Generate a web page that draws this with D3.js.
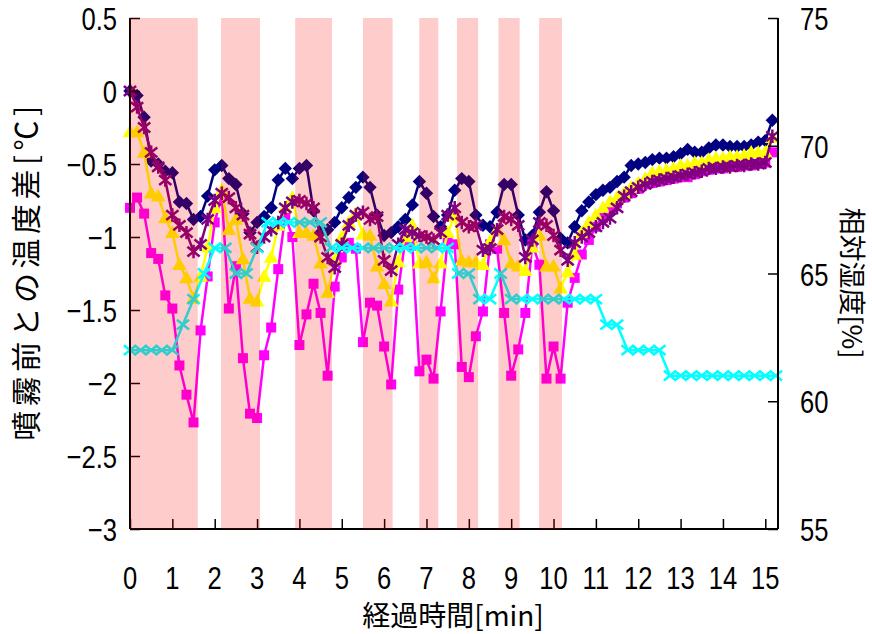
<!DOCTYPE html>
<html>
<head>
<meta charset="utf-8">
<script src="https://cdn.jsdelivr.net/npm/d3@7/dist/d3.min.js"></script>
<style>
  html, body { margin: 0; padding: 0; background: #ffffff; }
  svg text { font-family: "Noto Sans CJK JP", "Noto Sans", sans-serif; fill: #000; }
  svg text.num { font-family: "Liberation Sans", Arial, sans-serif; }
</style>
</head>
<body>
<svg id="chart" width="872" height="634"></svg>
<script>
// Sampling clocks (seconds between readings)
const tempStepSec = 10;
const rhStepSec = 15;

// Spray periods [start, end] in minutes
const sprayPeriods = [
  [0, 1.6], [2.15, 3.07], [3.9, 4.77], [5.5, 6.2],
  [6.83, 7.28], [7.72, 8.22], [8.7, 9.2], [9.66, 10.2]
];

// Temperature difference from pre-spray value [°C], one reading every 10 s
const tempNavy = [
  0.00, -0.03, -0.18, -0.48, -0.50, -0.55, -0.56, -0.76, -0.77, -0.88, -0.86,
  -0.72, -0.54, -0.51, -0.60, -0.64, -0.84, -0.97, -0.90, -0.86, -0.80,
  -0.61, -0.53, -0.60, -0.53, -0.51, -0.82, -0.97, -0.95, -0.90, -0.80,
  -0.73, -0.66, -0.59, -0.66, -0.85, -0.99, -0.97, -0.93, -0.88, -0.78,
  -0.62, -0.70, -0.86, -0.93, -0.85, -0.68, -0.60, -0.62, -0.85, -0.92,
  -0.93, -0.83, -0.64, -0.64, -0.85, -1.02, -0.99, -0.83, -0.69, -0.82,
  -1.01, -1.04, -0.93, -0.82, -0.76, -0.71, -0.68, -0.66, -0.62, -0.59,
  -0.51, -0.50, -0.49, -0.47, -0.46, -0.46, -0.45, -0.43, -0.40, -0.42,
  -0.42, -0.39, -0.37, -0.37, -0.38, -0.38, -0.38, -0.37, -0.35, -0.34, -0.20
];
const tempMagenta = [
  -0.80, -0.73, -0.84, -1.11, -1.15, -1.40, -1.49, -1.88, -2.08, -2.27, -1.64,
  -1.27, -0.90, -0.71, -1.49, -1.20, -1.83, -2.21, -2.24, -1.81, -1.62,
  -1.22, -0.85, -1.00, -1.74, -1.53, -1.32, -1.52, -1.95, -1.34, -1.14,
  -1.04, -1.08, -1.72, -1.45, -1.47, -1.75, -2.01, -1.36, -1.02, -1.06,
  -1.92, -1.84, -1.97, -1.51, -1.02, -1.05, -1.89, -1.96, -1.68, -1.51,
  -1.05, -1.08, -1.52, -1.95, -1.77, -1.52, -1.05, -1.19, -1.97, -1.75,
  -1.97, -1.45, -1.28, -1.12, -1.02, -0.93, -0.87, -0.82, -0.77, -0.73,
  -0.70, -0.67, -0.64, -0.63, -0.62, -0.61, -0.60, -0.59, -0.59, -0.57,
  -0.55, -0.54, -0.53, -0.53, -0.52, -0.52, -0.51, -0.51, -0.50, -0.49, -0.42
];
const tempYellow = [
  -0.28, -0.28, -0.42, -0.70, -0.72, -0.87, -0.97, -1.19, -1.28, -1.42, -1.27,
  -1.07, -0.80, -0.68, -0.95, -0.88, -1.15, -1.42, -1.44, -1.27, -1.14,
  -0.92, -0.80, -0.73, -0.97, -0.97, -0.99, -1.18, -1.38, -1.16, -1.00,
  -0.90, -0.84, -0.98, -0.99, -1.20, -1.32, -1.44, -1.17, -1.00, -0.92,
  -1.18, -1.17, -1.28, -1.18, -0.97, -0.86, -1.16, -1.17, -1.17, -1.19,
  -1.03, -0.95, -1.02, -1.18, -1.20, -1.23, -1.07, -0.99, -1.20, -1.20,
  -1.35, -1.24, -1.12, -0.97, -0.90, -0.85, -0.80, -0.76, -0.73, -0.70,
  -0.66, -0.63, -0.60, -0.56, -0.55, -0.54, -0.53, -0.51, -0.51, -0.49,
  -0.49, -0.47, -0.46, -0.46, -0.45, -0.45, -0.44, -0.42, -0.42, -0.42, -0.32
];
const tempPurple = [
  0.00, -0.11, -0.25, -0.42, -0.52, -0.61, -0.85, -0.92, -0.97, -1.10, -1.05,
  -0.88, -0.75, -0.70, -0.73, -0.80, -0.85, -0.98, -1.07, -1.00, -0.95,
  -0.90, -0.80, -0.76, -0.75, -0.77, -0.80, -1.00, -1.14, -1.21, -1.05,
  -0.92, -0.85, -0.83, -0.88, -0.86, -1.16, -1.23, -1.05, -0.95, -0.97,
  -0.99, -1.00, -1.02, -0.97, -0.85, -0.80, -0.90, -0.93, -0.92, -1.09,
  -1.08, -0.95, -0.86, -0.88, -0.92, -1.14, -1.02, -0.90, -0.92, -0.99,
  -1.09, -1.16, -1.04, -1.00, -0.97, -0.93, -0.90, -0.87, -0.80, -0.72,
  -0.69, -0.66, -0.64, -0.62, -0.61, -0.60, -0.59, -0.58, -0.57, -0.56,
  -0.55, -0.53, -0.53, -0.52, -0.52, -0.51, -0.51, -0.50, -0.50, -0.49, -0.31
];

// Relative humidity [%], one reading every 15 s
const humidity = [
  62, 62, 62, 62, 62, 63, 64, 65, 66, 66, 65, 65, 66, 67, 67, 67,
  67, 67, 67, 66, 66, 66, 66, 66, 66, 66, 66, 66, 66, 66, 66, 65,
  65, 64, 64, 65, 64, 64, 64, 64, 64, 64, 64, 64, 64, 63, 63, 62,
  62, 62, 62, 61, 61, 61, 61, 61, 61, 61, 61, 61, 61, 61
];

// Axis ticks
const xTicks = [0, 1, 2, 3, 4, 5, 6, 7, 8, 9, 10, 11, 12, 13, 14, 15];
const yLeftTicks = [0.5, 0, -0.5, -1, -1.5, -2, -2.5, -3];
const yRightTicks = [75, 70, 65, 60, 55];

const labels = {
  x: "経過時間[min]",
  yLeft: "噴霧前との温度差[℃]",
  yRight: "相対湿度[%]"
};

// ---------------------------------------------------------------
const svg = d3.select("#chart");
const plot = { left: 130, right: 778, top: 18, bottom: 529 };

const x = d3.scaleLinear().domain([0, 15.3]).range([plot.left, plot.right]);
const yL = d3.scaleLinear().domain([-3, 0.5]).range([plot.bottom, plot.top]);
const yR = d3.scaleLinear().domain([55, 75]).range([plot.bottom, plot.top]);

const tempTime = i => i * tempStepSec / 60;
const rhTime = i => i * rhStepSec / 60;

// Marker shapes
const diamond = {
  draw(ctx, size) {
    const r = Math.sqrt(size / 2);
    ctx.moveTo(0, -r); ctx.lineTo(r, 0); ctx.lineTo(0, r); ctx.lineTo(-r, 0); ctx.closePath();
  }
};
const cross = {
  draw(ctx, size) {
    const w = Math.sqrt(size) / 2, h = w * 0.8;
    ctx.moveTo(-w, -h); ctx.lineTo(w, h);
    ctx.moveTo(w, -h); ctx.lineTo(-w, h);
  }
};
const asterisk = {
  draw(ctx, size) {
    const r = Math.sqrt(size) / 2;
    ctx.moveTo(-r, -r * 0.8); ctx.lineTo(r, r * 0.8);
    ctx.moveTo(r, -r * 0.8); ctx.lineTo(-r, r * 0.8);
    ctx.moveTo(0, -r * 1.1); ctx.lineTo(0, r * 1.1);
  }
};
const triangle = {
  draw(ctx, size) {
    const h = Math.sqrt(size);
    const w = h * 0.58;
    ctx.moveTo(0, -h * 0.58); ctx.lineTo(w, h * 0.42); ctx.lineTo(-w, h * 0.42); ctx.closePath();
  }
};

const series = [
  { values: tempNavy, time: tempTime, y: yL, color: "#000080", symbol: diamond, size: 90, fill: true },
  { values: tempMagenta, time: tempTime, y: yL, color: "#ff00ff", symbol: d3.symbolSquare, size: 100, fill: true },
  { values: tempYellow, time: tempTime, y: yL, color: "#ffff00", symbol: triangle, size: 160, fill: true },
  { values: tempPurple, time: tempTime, y: yL, color: "#800080", symbol: asterisk, size: 150, fill: false },
  { values: humidity, time: rhTime, y: yR, color: "#00ffff", symbol: cross, size: 150, fill: false }
];

const gSeries = svg.append("g");
series.forEach(s => {
  const pts = s.values.map((v, i) => [x(s.time(i)), s.y(v)]);
  gSeries.append("path")
    .attr("d", d3.line()(pts))
    .attr("fill", "none")
    .attr("stroke", s.color)
    .attr("stroke-width", 2.5)
    .attr("stroke-linejoin", "round");
  gSeries.append("g").selectAll("path")
    .data(pts)
    .join("path")
    .attr("transform", d => `translate(${d[0]},${d[1]})`)
    .attr("d", d3.symbol(s.symbol, s.size))
    .attr("fill", s.fill ? s.color : "none")
    .attr("stroke", s.color)
    .attr("stroke-width", s.fill ? 0 : 2.5);
});

// Axes: tick marks from the library's axes, labels set in a narrow face
const axisG = svg.append("g");
const axLeft = d3.axisLeft(yL).tickValues(yLeftTicks).tickSize(-10).tickFormat("");
const axRight = d3.axisRight(yR).tickValues(yRightTicks).tickSize(-10).tickFormat("");
const axBottom = d3.axisBottom(x).tickValues(xTicks).tickSize(-10).tickFormat("");

axisG.append("g").attr("transform", `translate(${plot.left},0)`).call(axLeft);
axisG.append("g").attr("transform", `translate(${plot.right},0)`).call(axRight);
axisG.append("g").attr("transform", `translate(0,${plot.bottom})`).call(axBottom);
axisG.selectAll(".domain").remove();
axisG.selectAll(".tick line").attr("stroke", "#000").attr("stroke-width", 1.5);

const frame = [
  [plot.left, plot.top, plot.left, plot.bottom],
  [plot.right, plot.top, plot.right, plot.bottom],
  [plot.left, plot.bottom, plot.right, plot.bottom]
];
axisG.selectAll("line.frame").data(frame).join("line").attr("class", "frame")
  .attr("x1", d => d[0]).attr("y1", d => d[1]).attr("x2", d => d[2]).attr("y2", d => d[3])
  .attr("stroke", "#000").attr("stroke-width", 2);

const narrow = (g, px, py, str, anchor) => {
  g.append("text")
    .attr("class", "num")
    .attr("transform", `translate(${px},${py}) scale(0.8,1)`)
    .attr("text-anchor", anchor)
    .attr("font-size", 32)
    .text(str);
};
const fmt = d => String(d).replace("-", "−");
const labelG = svg.append("g");
yLeftTicks.forEach(t => narrow(labelG, 117, yL(t) + 12, fmt(t), "end"));
yRightTicks.forEach(t => narrow(labelG, 800, yR(t) + 12, fmt(t), "start"));
xTicks.forEach(t => narrow(labelG, x(t), 589, fmt(t), "middle"));

// Spray periods, laid over the plot as a translucent red wash
svg.append("g").selectAll("rect")
  .data(sprayPeriods)
  .join("rect")
  .attr("x", d => x(d[0]))
  .attr("width", d => x(d[1]) - x(d[0]))
  .attr("y", plot.top)
  .attr("height", plot.bottom - plot.top)
  .attr("fill", "#ff0000")
  .attr("fill-opacity", 0.2);

// Axis titles
svg.append("text")
  .attr("x", 453).attr("y", 626)
  .attr("text-anchor", "middle").attr("font-size", 28)
  .text(labels.x);
svg.append("text")
  .attr("transform", "translate(37,271) rotate(-90)")
  .attr("text-anchor", "middle").attr("font-size", 30)
  .attr("letter-spacing", 4.5)
  .text(labels.yLeft);
svg.append("text")
  .attr("transform", "translate(842,283) rotate(90)")
  .attr("text-anchor", "middle").attr("font-size", 27)
  .text(labels.yRight);
</script>
</body>
</html>
